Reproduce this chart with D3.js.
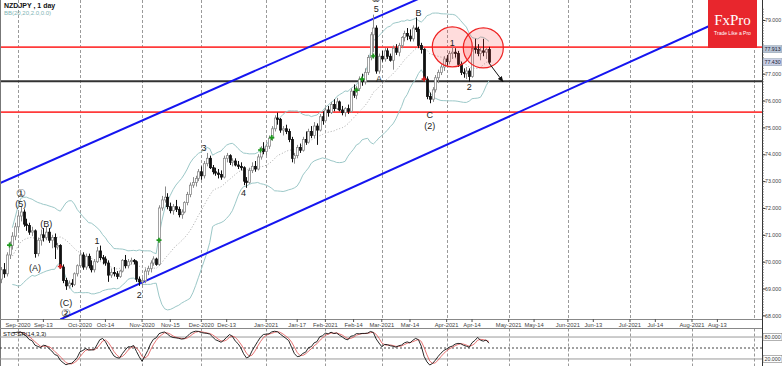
<!DOCTYPE html>
<html>
<head>
<meta charset="utf-8">
<script src="https://cdn.jsdelivr.net/npm/d3@7"></script>
<style>
  body { margin: 0; background: #fff; }
  svg { display: block; font-family: "Liberation Sans", Arial, sans-serif; }
</style>
</head>
<body>
<div id="chart"></div>
<script>
// ---- data (daily NZDJPY candles, first bar 2020-08-24) ----
const firstBar = "2020-08-24";

const opens = [
  69.35,69.70,69.55,70.25,70.60,70.95,71.30,71.70,71.85,71.40,
  71.35,71.10,71.15,70.30,70.80,71.00,70.90,71.10,70.80,70.90,
  70.55,70.60,69.80,69.30,69.10,69.20,69.15,69.55,69.85,70.25,
  69.80,70.20,69.85,69.70,70.00,70.40,70.15,70.10,69.95,69.50,
  69.60,69.55,69.45,69.65,70.05,69.85,70.00,70.05,70.00,69.35,
  69.25,69.30,69.65,69.75,69.95,70.10,69.90,72.00,72.30,72.40,
  72.05,71.90,72.05,71.95,71.75,71.85,72.20,72.50,72.85,72.95,
  73.10,73.35,73.20,73.65,73.85,73.50,73.35,73.30,73.25,73.15,
  73.85,73.95,73.70,73.75,73.60,73.55,73.50,73.00,72.95,73.40,
  73.55,73.45,73.90,74.20,74.10,74.30,74.60,74.95,75.35,75.30,
  74.90,74.95,74.85,74.55,73.85,73.95,74.25,74.15,74.55,74.45,
  74.85,74.70,75.05,74.90,75.40,75.25,75.65,75.55,75.85,75.70,
  75.95,75.65,75.55,75.70,75.60,76.35,76.20,76.45,76.80,76.70,
  77.05,77.60,78.45,78.70,77.10,77.65,77.55,77.85,77.65,77.50,
  77.95,77.80,78.05,78.35,78.50,78.40,78.30,78.70,78.65,78.05,
  77.90,76.80,76.15,76.05,76.40,76.85,77.05,77.25,77.55,77.45,
  77.75,77.80,77.75,77.35,77.05,77.00,77.10,76.90,77.95,77.90,
  77.75,77.85,77.80,77.90
];
const highs = [
  69.80,69.95,70.35,70.75,71.10,71.45,71.85,72.05,71.95,71.60,
  71.45,71.30,71.20,70.90,71.20,71.25,71.30,71.25,71.00,71.05,
  70.70,70.65,69.90,69.40,69.30,69.35,69.60,69.90,70.35,70.35,
  70.30,70.30,70.05,70.10,70.55,70.60,70.25,70.20,70.05,69.75,
  69.80,69.65,69.70,70.10,70.25,70.10,70.15,70.10,70.05,69.45,
  69.40,69.75,69.85,70.05,70.20,70.15,72.10,72.45,72.80,72.55,
  72.20,72.15,72.30,72.05,71.95,72.25,72.60,72.95,73.15,73.20,
  73.45,73.55,73.75,74.05,73.95,73.60,73.50,73.45,73.40,73.95,
  74.05,74.00,73.85,73.85,73.75,73.70,73.55,73.15,73.50,73.70,
  73.75,74.00,74.30,74.45,74.40,74.70,75.05,75.45,75.55,75.35,
  75.05,75.10,74.95,74.65,74.05,74.35,74.40,74.65,74.85,74.95,
  75.05,75.20,75.15,75.50,75.60,75.75,75.80,75.95,76.05,76.10,
  76.00,75.80,75.75,75.85,76.45,76.60,76.55,76.90,77.00,77.20,
  77.70,78.55,79.20,78.80,77.75,77.85,77.95,77.95,77.75,78.05,
  78.10,78.15,78.40,78.60,78.70,78.65,78.80,79.10,78.75,78.15,
  77.95,76.90,76.30,76.50,76.95,77.15,77.35,77.65,77.70,77.85,
  78.00,77.95,77.85,77.45,77.20,77.25,77.20,78.05,78.30,78.10,
  77.95,78.30,77.95,78.00
];
const lows = [
  69.20,69.40,69.45,70.10,70.45,70.80,71.15,71.50,71.30,71.15,
  71.00,70.95,70.15,70.20,70.60,70.75,70.80,70.70,70.50,70.10,
  70.45,69.75,69.20,68.95,69.00,69.05,69.10,69.45,69.80,69.70,
  69.70,69.75,69.60,69.60,69.95,70.05,69.90,69.85,69.25,69.40,
  69.45,69.35,69.40,69.60,69.75,69.75,69.90,69.90,69.25,69.10,
  69.05,69.20,69.50,69.60,69.85,69.85,69.85,71.90,72.20,71.95,
  71.80,71.75,71.85,71.65,71.60,71.80,72.10,72.40,72.75,72.80,
  73.00,73.05,73.10,73.55,73.45,73.25,73.20,73.10,73.05,73.10,
  73.70,73.60,73.55,73.55,73.45,73.40,72.85,72.75,72.90,73.30,
  73.35,73.40,73.80,74.00,73.95,74.20,74.50,74.85,75.10,74.80,
  74.70,74.75,74.45,73.70,73.65,73.85,74.05,74.10,74.35,74.40,
  74.60,74.60,74.35,74.85,75.10,75.20,75.40,75.50,75.60,75.65,
  75.60,75.45,75.40,75.50,75.55,76.10,76.05,76.35,76.55,76.60,
  76.95,77.50,77.80,77.00,77.00,77.45,77.45,77.55,77.45,77.15,
  77.70,77.65,77.95,78.20,78.25,78.20,78.20,78.55,77.95,77.75,
  76.75,76.05,75.90,75.95,76.30,76.65,76.95,77.10,77.30,77.35,
  77.55,77.60,77.25,76.95,76.85,76.80,76.70,76.85,77.75,77.65,
  77.50,77.65,77.55,77.40
];
const closes = [
  69.70,69.55,70.25,70.60,70.95,71.30,71.70,71.85,71.40,71.35,
  71.10,71.15,70.30,70.80,71.00,70.90,71.10,70.80,70.90,70.55,
  70.60,69.80,69.30,69.10,69.20,69.15,69.55,69.85,70.25,69.80,
  70.20,69.85,69.70,70.00,70.40,70.15,70.10,69.95,69.50,69.60,
  69.55,69.45,69.65,70.05,69.85,70.00,70.05,70.00,69.35,69.25,
  69.30,69.65,69.75,69.95,70.10,69.90,72.00,72.30,72.40,72.05,
  71.90,72.05,71.95,71.75,71.85,72.20,72.50,72.85,72.95,73.10,
  73.35,73.20,73.65,73.85,73.50,73.35,73.30,73.25,73.15,73.85,
  73.95,73.70,73.75,73.60,73.55,73.50,73.00,72.95,73.40,73.55,
  73.45,73.90,74.20,74.10,74.30,74.60,74.95,75.35,75.30,74.90,
  74.95,74.85,74.55,73.85,73.95,74.25,74.15,74.55,74.45,74.85,
  74.70,75.05,74.90,75.40,75.25,75.65,75.55,75.85,75.70,75.95,
  75.65,75.55,75.70,75.60,76.35,76.20,76.45,76.80,76.70,77.05,
  77.60,78.45,78.70,77.10,77.65,77.55,77.85,77.65,77.50,77.95,
  77.80,78.05,78.35,78.50,78.40,78.30,78.70,78.65,78.05,77.90,
  76.80,76.15,76.05,76.40,76.85,77.05,77.25,77.55,77.45,77.75,
  77.80,77.75,77.35,77.05,77.00,77.10,76.90,77.95,77.90,77.75,
  77.85,77.80,77.90,77.43
];

// time axis labels
const monthTicks = [
  ["2020-09-01","Sep-2020"],["2020-10-01","Oct-2020"],["2020-11-01","Nov-2020"],
  ["2020-12-01","Dec-2020"],["2021-01-01","Jan-2021"],["2021-02-01","Feb-2021"],
  ["2021-03-01","Mar-2021"],["2021-04-01","Apr-2021"],["2021-05-01","May-2021"],
  ["2021-06-01","Jun-2021"],["2021-07-01","Jul-2021"],["2021-08-01","Aug-2021"],
  ["2021-09-01",""]
];
const midTicks = [
  ["2020-09-13","Sep-13"],["2020-10-14","Oct-14"],["2020-11-15","Nov-15"],
  ["2020-12-13","Dec-13"],["2021-01-17","Jan-17"],["2021-02-14","Feb-14"],
  ["2021-03-14","Mar-14"],["2021-04-14","Apr-14"],["2021-05-14","May-14"],
  ["2021-06-13","Jun-13"],["2021-07-14","Jul-14"],["2021-08-13","Aug-13"]
];
const priceTicks = [68,69,70,71,72,73,74,75,76,77,78,79];
const priceTags = [77.913, 77.43];
const stoParams = [14, 3, 3];

// analysis drawings (bar date, price)
const redLevels = [77.99, 75.57];
const blackLevel = 76.72;
const channelUpper = [["2020-08-21", 72.90], ["2021-03-17", 79.74]];
const channelLower = [["2020-09-22", 67.85], ["2021-09-01", 79.53]];
const projArrow = [["2021-04-22", 77.40], ["2021-04-29", 76.70]];
const circles = [["2021-04-05", 78.0], ["2021-04-20", 77.96]];
const buySignals = [["2020-08-27", 70.62], ["2020-11-10", 70.80], ["2020-12-30", 74.16],
                    ["2021-01-05", 74.62], ["2021-02-16", 76.39], ["2021-02-18", 76.80], ["2021-02-24", 77.66]];
const sellSignals = [["2020-09-22", 69.82], ["2021-03-22", 76.80]];
const waveLabels = [
  ["2020-09-02", 72.56, "\u2460"], ["2020-09-02", 72.15, "(5)"], ["2020-09-09", 69.76, "(A)"],
  ["2020-09-15", 71.40, "(B)"], ["2020-09-24", 68.46, "(C)"], ["2020-09-24", 68.09, "\u2461"],
  ["2020-10-09", 70.77, "1"], ["2020-10-30", 68.76, "2"], ["2020-12-02", 74.23, "3"],
  ["2020-12-22", 72.56, "4"], ["2021-02-25", 79.41, "5"], ["2021-02-25", 79.82, "\u2460"],
  ["2021-02-26", 76.80, "A"], ["2021-03-18", 79.26, "B"], ["2021-03-24", 75.46, "C"],
  ["2021-03-24", 75.05, "(2)"], ["2021-04-05", 78.14, "1"], ["2021-04-13", 76.50, "2"]
];

// ---- layout ----
const W = 782, H = 366;
const plotRight = 762, mainBottom = 319, stoTop = 328.5;
const parse = d3.timeParse("%Y-%m-%d");
const origin = parse("2020-09-01");
const isWeekday = d => d.getDay() !== 0 && d.getDay() !== 6;
function barIndex(d) {
  if (typeof d === "string") d = parse(d);
  if (d >= origin) return d3.timeDay.range(origin, d).filter(isWeekday).length;
  return -d3.timeDay.range(d, origin).filter(isWeekday).length;
}

const dates = d3.timeDay.range(parse(firstBar), parse("2021-06-01")).filter(isWeekday).slice(0, closes.length);
const bars = dates.map((d, i) => ({
  date: d, idx: barIndex(d), o: opens[i], h: highs[i], l: lows[i], c: closes[i]
}));

const x = d3.scaleLinear().domain([0, 239]).range([18, 692]);
const y = d3.scaleLinear().domain([68, 79]).range([315.4, 20]);
const ys = d3.scaleLinear().domain([0, 100]).range([366.3, 329.7]);

// Bollinger bands (20, 2.0) from closes
const bb = bars.map((b, i) => {
  const win = closes.slice(Math.max(0, i - 19), i + 1);
  if (win.length < 5) return null;
  const m = d3.mean(win), sd = Math.sqrt(d3.mean(win, v => (v - m) * (v - m)));
  return {idx: b.idx, mid: m, up: m + 2 * sd, lo: m - 2 * sd};
}).filter(d => d);

// Stochastic %K / %D
const [kLen, slow, dLen] = stoParams;
const num = [], den = [];
bars.forEach((b, i) => {
  const s = Math.max(0, i - kLen + 1);
  const hh = d3.max(highs.slice(s, i + 1)), ll = d3.min(lows.slice(s, i + 1));
  num.push(closes[i] - ll); den.push(hh - ll);
});
const stoK = bars.map((b, i) => {
  if (i < 4) return null;
  const s = Math.max(0, i - slow + 1);
  const n = d3.sum(num.slice(s, i + 1)), dd = d3.sum(den.slice(s, i + 1));
  return dd ? 100 * n / dd : 50;
});
const stoD = stoK.map((v, i) => (i < 6 ? null : d3.mean(stoK.slice(i - dLen + 1, i + 1))));

// ---- drawing ----
const svg = d3.select("#chart").append("svg").attr("width", W).attr("height", H);
const defs = svg.append("defs");
defs.append("clipPath").attr("id", "mainClip")
  .append("rect").attr("x", 0).attr("y", 0).attr("width", plotRight).attr("height", mainBottom);
defs.append("clipPath").attr("id", "stoClip")
  .append("rect").attr("x", 0).attr("y", stoTop).attr("width", plotRight).attr("height", H - stoTop);
defs.append("marker").attr("id", "arrowHead")
  .attr("viewBox", "0 0 10 10").attr("refX", 9).attr("refY", 5)
  .attr("markerWidth", 6).attr("markerHeight", 6).attr("orient", "auto")
  .append("path").attr("d", "M0,1 L10,5 L0,9 z").attr("fill", "#111");

// month grid lines
const grid = svg.append("g");
monthTicks.forEach(([d]) => {
  const gx = Math.round(x(barIndex(d))) + 0.5;
  grid.append("line").attr("x1", gx).attr("x2", gx).attr("y1", 0).attr("y2", mainBottom)
    .attr("stroke", "#9a9a9a").attr("stroke-dasharray", "3,2");
  grid.append("line").attr("x1", gx).attr("x2", gx).attr("y1", stoTop).attr("y2", H)
    .attr("stroke", "#9a9a9a").attr("stroke-dasharray", "3,2");
});

const main = svg.append("g").attr("clip-path", "url(#mainClip)");

// horizontal levels
redLevels.forEach(v => {
  main.append("line").attr("x1", 0).attr("x2", plotRight).attr("y1", y(v)).attr("y2", y(v))
    .attr("stroke", "#ff3b3b").attr("stroke-width", 1.6);
});
main.append("line").attr("x1", 0).attr("x2", plotRight).attr("y1", y(blackLevel)).attr("y2", y(blackLevel))
  .attr("stroke", "#333").attr("stroke-width", 1.8);

// Bollinger bands
const bandLine = key => d3.line().x(d => x(d.idx)).y(d => y(d[key]));
main.append("path").datum(bb).attr("d", bandLine("up")).attr("fill", "none").attr("stroke", "#9cc8c8").attr("stroke-width", 1);
main.append("path").datum(bb).attr("d", bandLine("lo")).attr("fill", "none").attr("stroke", "#9cc8c8").attr("stroke-width", 1);
main.append("path").datum(bb).attr("d", bandLine("mid")).attr("fill", "none").attr("stroke", "#aaa")
  .attr("stroke-width", 1).attr("stroke-dasharray", "1,2");

// channel lines
function lineThrough(pts, a, b) {
  const i0 = barIndex(pts[0][0]), i1 = barIndex(pts[1][0]);
  const k = (pts[1][1] - pts[0][1]) / (i1 - i0);
  return [[a, pts[0][1] + k * (a - i0)], [b, pts[0][1] + k * (b - i0)]];
}
[[channelUpper, -8, 200], [channelLower, barIndex(channelLower[0][0]), barIndex(channelLower[1][0])]].forEach(([pts, a, b]) => {
  const seg = lineThrough(pts, a, b);
  main.append("line").attr("x1", x(seg[0][0])).attr("y1", y(seg[0][1]))
    .attr("x2", x(seg[1][0])).attr("y2", y(seg[1][1]))
    .attr("stroke", "#1515f0").attr("stroke-width", 2);
});

// candles
const candle = main.append("g").selectAll("g").data(bars).join("g");
candle.append("line")
  .attr("x1", d => Math.round(x(d.idx)) + 0.5).attr("x2", d => Math.round(x(d.idx)) + 0.5)
  .attr("y1", d => y(d.h)).attr("y2", d => y(d.l))
  .attr("stroke", d => d.c >= d.o ? "#8a8a8a" : "#111").attr("stroke-width", 1);
candle.append("rect")
  .attr("x", d => Math.round(x(d.idx)) - 0.5).attr("width", 2)
  .attr("y", d => y(Math.max(d.o, d.c))).attr("height", d => Math.max(1, Math.abs(y(d.o) - y(d.c))))
  .attr("fill", d => d.c >= d.o ? "#fff" : "#111")
  .attr("stroke", d => d.c >= d.o ? "#8a8a8a" : "#111").attr("stroke-width", 0.8);

// signal markers
buySignals.forEach(([d, v]) => {
  main.append("path").attr("transform", `translate(${x(barIndex(d))},${y(v)})`)
    .attr("d", d3.symbol(d3.symbolCross, 14)()).attr("fill", "#1e9a1e");
});
sellSignals.forEach(([d, v]) => {
  main.append("path").attr("transform", `translate(${x(barIndex(d))},${y(v)})`)
    .attr("d", d3.symbol(d3.symbolCross, 14)()).attr("fill", "#d42020");
});

// highlight circles
circles.forEach(([d, v]) => {
  main.append("circle").attr("cx", x(barIndex(d))).attr("cy", y(v)).attr("r", 20)
    .attr("fill", "rgba(255,60,60,0.18)").attr("stroke", "#ee2222").attr("stroke-width", 1.2);
});

// projection arrow
main.append("line")
  .attr("x1", x(barIndex(projArrow[0][0]))).attr("y1", y(projArrow[0][1]))
  .attr("x2", x(barIndex(projArrow[1][0]))).attr("y2", y(projArrow[1][1]))
  .attr("stroke", "#111").attr("stroke-width", 1).attr("marker-end", "url(#arrowHead)");

// wave labels
main.selectAll(".wave").data(waveLabels).join("text")
  .attr("class", "wave")
  .attr("x", d => x(barIndex(d[0]))).attr("y", d => y(d[1]))
  .attr("text-anchor", "middle").attr("dominant-baseline", "central")
  .attr("font-size", d => d[2].length === 1 && d[2] > "\u2000" ? 11 : 9)
  .attr("fill", "#222").text(d => d[2]);

// titles
svg.append("text").attr("x", 4).attr("y", 8).attr("font-size", 7).attr("font-weight", "bold")
  .attr("fill", "#111").text("NZDJPY , 1 day");
svg.append("text").attr("x", 4).attr("y", 15).attr("font-size", 6).attr("fill", "#7fb5b5")
  .text("BB(20,20,2.0,0.0)");

// frame + price axis
svg.append("line").attr("x1", 0.5).attr("x2", 0.5).attr("y1", 0).attr("y2", H).attr("stroke", "#777");
svg.append("line").attr("x1", plotRight + 0.5).attr("x2", plotRight + 0.5).attr("y1", 0).attr("y2", H).attr("stroke", "#333");
svg.append("line").attr("x1", 0).attr("x2", plotRight).attr("y1", mainBottom + 0.5).attr("y2", mainBottom + 0.5).attr("stroke", "#888");
svg.append("line").attr("x1", 0).attr("x2", plotRight).attr("y1", stoTop).attr("y2", stoTop).attr("stroke", "#888");

const yAxis = d3.axisRight(y).tickValues(priceTicks).tickSize(3)
  .tickFormat(v => priceTags.some(t => Math.abs(y(t) - y(v)) < 6) ? "" : d3.format(".3f")(v));
const ya = svg.append("g").attr("transform", `translate(${plotRight + 0.5},0)`).call(yAxis);
ya.select(".domain").remove();
ya.selectAll("text").attr("font-size", 5.3).attr("fill", "#444").attr("x", 2.5);
ya.selectAll("line").attr("stroke", "#333");
const minor = d3.range(680, 795).map(v => v / 10);
svg.append("g").selectAll("line").data(minor).join("line")
  .attr("x1", plotRight).attr("x2", plotRight + 2).attr("y1", d => y(d)).attr("y2", d => y(d))
  .attr("stroke", "#555").attr("stroke-width", 0.6);

// price tags
priceTags.forEach((v, i) => {
  svg.append("rect").attr("x", plotRight + 1).attr("y", y(v) - 3.5).attr("width", 19).attr("height", 7)
    .attr("fill", i ? "#c9cfe6" : "#b9c5d6").attr("stroke", "#8899aa").attr("stroke-width", 0.5);
  svg.append("text").attr("x", plotRight + 2.5).attr("y", y(v) + 2.2).attr("font-size", 5.3)
    .attr("fill", "#223").text(d3.format(".3f")(v));
});

// logo
svg.append("rect").attr("x", 708).attr("y", 0).attr("width", 49).attr("height", 48).attr("fill", "#e8262d");
svg.append("text").attr("x", 732.5).attr("y", 25).attr("text-anchor", "middle").attr("font-size", 15)
  .attr("font-family", "'Liberation Serif', 'DejaVu Serif', serif").attr("fill", "#fff").text("FxPro");
svg.append("text").attr("x", 732.5).attr("y", 35).attr("text-anchor", "middle").attr("font-size", 5)
  .attr("fill", "#fff").text("Trade Like a Pro");

// time labels
const tl = svg.append("g");
monthTicks.concat(midTicks).forEach(([d, t]) => {
  if (!t) return;
  const tx = x(barIndex(d));
  tl.append("line").attr("x1", tx).attr("x2", tx).attr("y1", mainBottom).attr("y2", mainBottom + 3).attr("stroke", "#555");
  tl.append("text").attr("x", tx).attr("y", 326.5).attr("text-anchor", "middle")
    .attr("font-size", 5.8).attr("fill", "#444").text(t);
});

// stochastic panel
const sto = svg.append("g").attr("clip-path", "url(#stoClip)");
[[80, null], [50, "2,2"], [20, null]].forEach(([v, dash]) => {
  sto.append("line").attr("x1", 0).attr("x2", plotRight).attr("y1", ys(v)).attr("y2", ys(v))
    .attr("stroke", dash ? "#444" : "#999").attr("stroke-dasharray", dash);
});
const stoLine = arr => d3.line().defined((d, i) => arr[i] != null).x(d => x(d.idx)).y((d, i) => ys(arr[i]));
sto.append("path").datum(bars).attr("d", stoLine(stoD)).attr("fill", "none").attr("stroke", "#e05050").attr("stroke-width", 0.8);
sto.append("path").datum(bars).attr("d", stoLine(stoK)).attr("fill", "none").attr("stroke", "#111").attr("stroke-width", 0.9);
svg.append("text").attr("x", 3).attr("y", 336).attr("font-size", 6).attr("fill", "#111")
  .text(`STO-SR(${stoParams.join(",")})`);
[80, 20].forEach(v => {
  svg.append("rect").attr("x", plotRight + 1).attr("y", ys(v) - 3.5).attr("width", 19).attr("height", 7)
    .attr("fill", "#fff").attr("stroke", "#666").attr("stroke-width", 0.5);
  svg.append("text").attr("x", plotRight + 2.5).attr("y", ys(v) + 2.2).attr("font-size", 5.3)
    .attr("fill", "#333").text(d3.format(".3f")(v));
});
</script>
</body>
</html>
